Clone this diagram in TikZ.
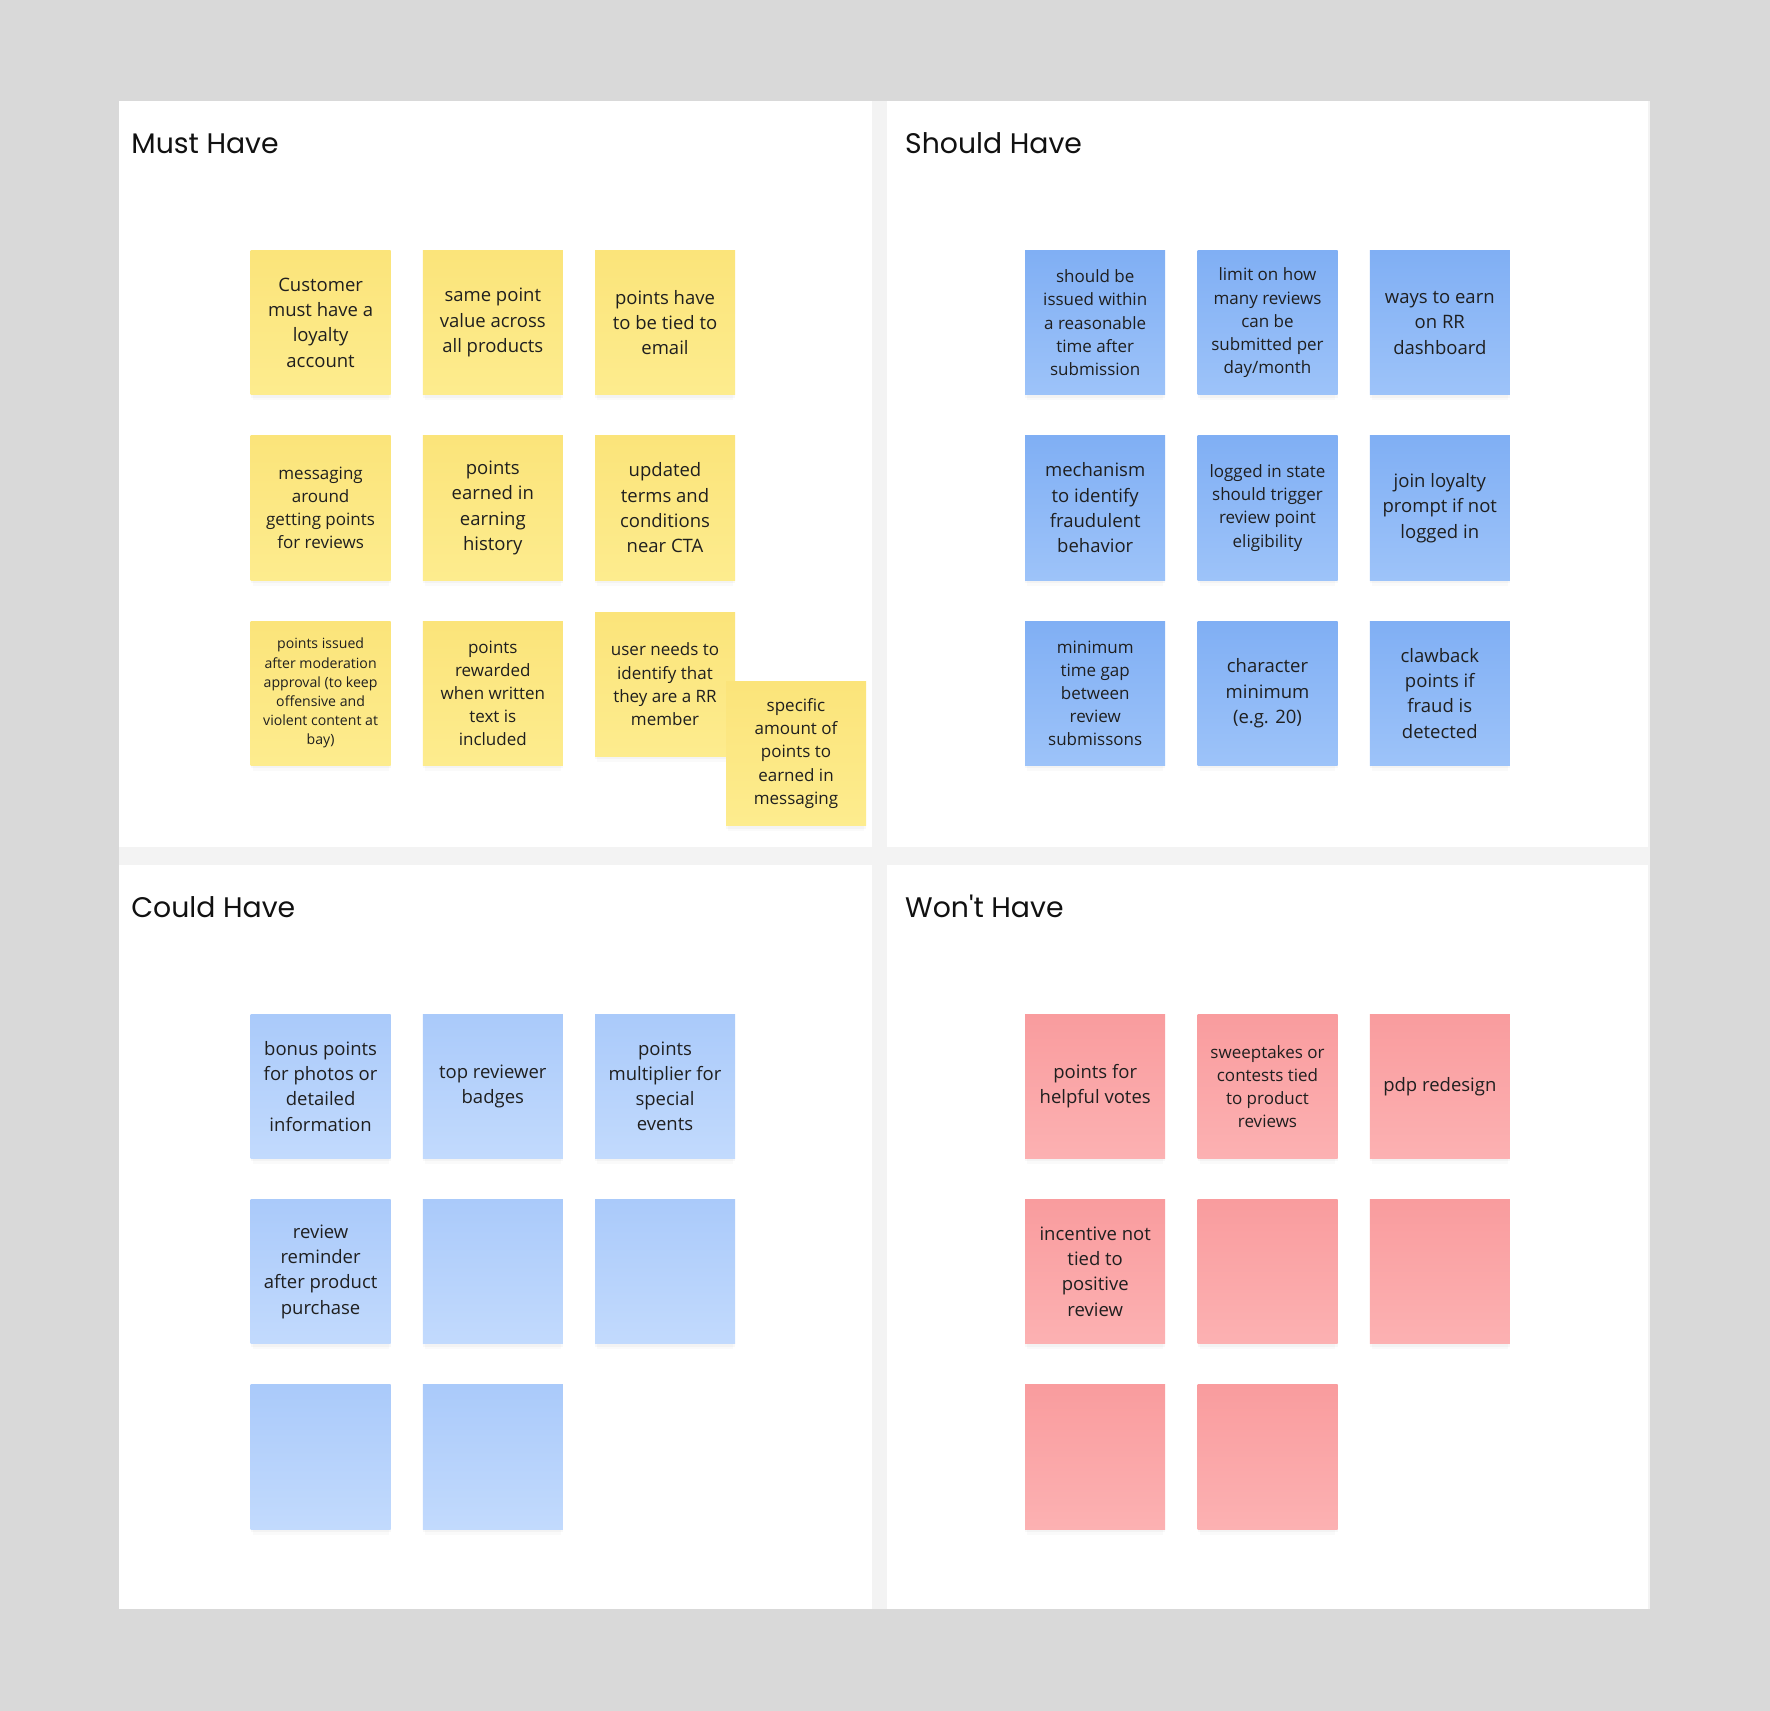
\documentclass[tikz,border=0pt]{standalone}
\usepackage{fontspec}
\setmainfont{Open Sans}
\newfontfamily\headfont{Poppins}
\usepackage{xcolor}
\usetikzlibrary{shadows}
\definecolor{canvas}{HTML}{D9D9D9}
\definecolor{gutter}{HTML}{F3F3F3}
\definecolor{ink}{HTML}{1F1F1F}
\definecolor{headink}{HTML}{111111}
\definecolor{musttop}{HTML}{FBE47A}
\definecolor{mustbot}{HTML}{FDEC8E}
\definecolor{shldtop}{HTML}{80AFF4}
\definecolor{shldbot}{HTML}{9DC3F9}
\definecolor{couldtop}{HTML}{AACAFA}
\definecolor{couldbot}{HTML}{C2DAFD}
\definecolor{wonttop}{HTML}{F99C9E}
\definecolor{wontbot}{HTML}{FCB1B2}
\tikzset{
  panel/.style={fill=white},
  heading/.style={font=\headfont\fontsize{28.3}{33}\selectfont,text=headink,
                  anchor=base west,inner sep=0pt},
  note/.style={minimum width=140pt,minimum height=144.3pt,inner sep=0pt,
               align=center,text=ink,
               drop shadow={shadow xshift=0pt,shadow yshift=-8pt,
                            shadow scale=0.97,opacity=0.035},
               drop shadow={shadow xshift=0pt,shadow yshift=-3pt,opacity=0.05}},
  must/.style={note,top color=musttop,bottom color=mustbot},
  should/.style={note,top color=shldtop,bottom color=shldbot},
  could/.style={note,top color=couldtop,bottom color=couldbot},
  wont/.style={note,top color=wonttop,bottom color=wontbot},
  txtbig/.style={font=\fontsize{18.5}{25.3}\selectfont},
  txtmid/.style={font=\fontsize{17}{23.1}\selectfont},
  txtsmall/.style={font=\fontsize{14.1}{19.2}\selectfont},
}

\begin{document}
\begin{tikzpicture}[x=1pt,y=-1pt]
  \useasboundingbox (0,0) rectangle (1770,1711);
  \fill[canvas] (0,0) rectangle (1770,1711);
  \fill[gutter] (118.5,100.5) rectangle (1649.5,1608.5);
  % the four quadrants
  \fill[panel] (118.5,100.5) rectangle (871.5,846.7);
  \fill[panel] (887,100.5) rectangle (1647.5,846.7);
  \fill[panel] (118.5,864.5) rectangle (871.5,1608.5);
  \fill[panel] (887,864.5) rectangle (1647.5,1608.5);
  \node[heading] (hmust) at (131.2,153.3) {Must Have};
  \node[heading] (hshould) at (905,153.3) {Should Have};
  \node[heading] (hcould) at (131.2,917.3) {Could Have};
  \node[heading] (hwont) at (905,917.3) {Won\textquotesingle t Have};

  % must have
  \node[must,txtbig] (m1) at (320.6,322.7) {Customer\\must have a\\loyalty\\account};
  \node[must,txtbig] (m2) at (492.8,322.7) {same point\\value across\\all products};
  \node[must,txtbig] (m3) at (665,322.7) {points have\\to be tied to\\email};
  \node[must,txtmid] (m4) at (320.6,508) {messaging\\around\\getting points\\for reviews};
  \node[must,txtbig] (m5) at (492.8,508) {points\\earned in\\earning\\history};
  \node[must,txtbig] (m6) at (665,508) {updated\\terms and\\conditions\\near CTA};
  \node[must,txtsmall] (m7) at (320.6,693.3)
    {points issued\\after moderation\\approval (to keep\\offensive and\\violent content at\\bay)};
  \node[must,txtmid] (m8) at (492.8,693.3) {points\\rewarded\\when written\\text is\\included};
  \node[must,txtmid] (m9) at (665,684.2) {user needs to\\identify that\\they are a RR\\member};
  \node[must,txtmid] (m10) at (796,753.5) {specific\\amount of\\points to\\earned in\\messaging};

  % should have
  \node[should,txtmid] (s1) at (1095.2,322.7)
    {should be\\issued within\\a reasonable\\time after\\submission};
  \node[should,txtmid] (s2) at (1267.5,322.7)
    {limit on how\\many reviews\\can be\\submitted per\\day/month};
  \node[should,txtbig] (s3) at (1439.8,322.7) {ways to earn\\on RR\\dashboard};
  \node[should,txtbig] (s4) at (1095.2,508) {mechanism\\to identify\\fraudulent\\behavior};
  \node[should,txtmid] (s5) at (1267.5,508)
    {logged in state\\should trigger\\review point\\eligibility};
  \node[should,txtbig] (s6) at (1439.8,508) {join loyalty\\prompt if not\\logged in};
  \node[should,txtmid] (s7) at (1095.2,693.3) {minimum\\time gap\\between\\review\\submissons};
  \node[should,txtbig] (s8) at (1267.5,693.3) {character\\minimum\\(e.g. 20)};
  \node[should,txtbig] (s9) at (1439.8,693.3) {clawback\\points if\\fraud is\\detected};

  % could have
  \node[could,txtbig] (c1) at (320.6,1086.3) {bonus points\\for photos or\\detailed\\information};
  \node[could,txtbig] (c2) at (492.8,1086.3) {top reviewer\\badges};
  \node[could,txtbig] (c3) at (665,1086.3) {points\\multiplier for\\special\\events};
  \node[could,txtbig] (c4) at (320.6,1271.6) {review\\reminder\\after product\\purchase};
  \foreach \nm/\cx/\ry in {5/1/1,6/2/1,7/0/2,8/1/2}
    \node[could] (c\nm) at (320.6+172.2*\cx,1086.3+185.3*\ry) {};

  % won't have
  \node[wont,txtbig] (w1) at (1095.2,1086.3) {points for\\helpful votes};
  \node[wont,txtmid] (w2) at (1267.5,1086.3)
    {sweeptakes or\\contests tied\\to product\\reviews};
  \node[wont,txtbig] (w3) at (1439.8,1086.3) {pdp redesign};
  \node[wont,txtbig] (w4) at (1095.2,1271.6) {incentive not\\tied to\\positive\\review};
  \foreach \nm/\cx/\ry in {5/1/1,6/2/1,7/0/2,8/1/2}
    \node[wont] (w\nm) at (1095.2+172.3*\cx,1086.3+185.3*\ry) {};
\end{tikzpicture}
\end{document}
